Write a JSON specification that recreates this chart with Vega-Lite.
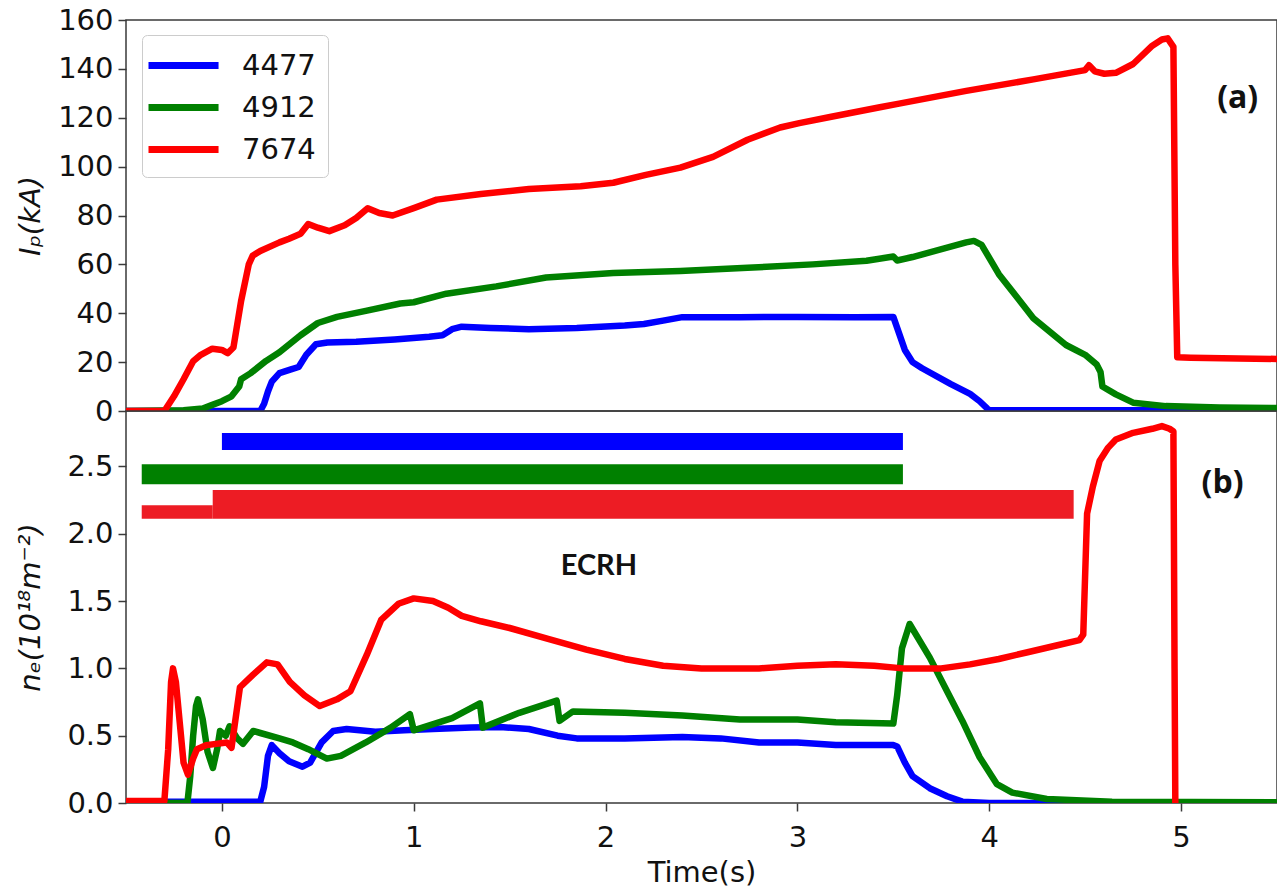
{
  "$schema": "https://vega.github.io/schema/vega-lite/v6.json",
  "padding": {"left": 15, "top": 5, "right": 0, "bottom": 5},
  "spacing": 0,
  "bounds": "flush",
  "config": {
    "view": {"stroke": "#3a3a3a", "strokeWidth": 1.5},
    "axis": {"labelFont": "DejaVu Sans", "labelFontSize": 29, "labelColor": "#111111", "titleFont": "DejaVu Sans", "titleFontSize": 29, "titleFontWeight": "normal", "titleColor": "#111111", "grid": false, "domain": false, "tickColor": "#3a3a3a", "tickSize": 8, "tickWidth": 1.5, "labelPadding": 5}
  },
  "resolve": {"scale": {"color": "independent"}, "legend": {"color": "independent"}},
  "datasets": {
    "ip": [
      {"shot":"4477","t":-0.5,"v":0},{"shot":"4477","t":0.2,"v":0},{"shot":"4477","t":0.22,"v":3},{"shot":"4477","t":0.24,"v":8},{"shot":"4477","t":0.26,"v":12},{"shot":"4477","t":0.3,"v":15.5},{"shot":"4477","t":0.36,"v":17},{"shot":"4477","t":0.4,"v":18},{"shot":"4477","t":0.44,"v":23},{"shot":"4477","t":0.49,"v":27.3},{"shot":"4477","t":0.55,"v":28},{"shot":"4477","t":0.7,"v":28.3},{"shot":"4477","t":0.9,"v":29.3},{"shot":"4477","t":1.08,"v":30.4},{"shot":"4477","t":1.15,"v":31},{"shot":"4477","t":1.2,"v":33.5},{"shot":"4477","t":1.25,"v":34.5},{"shot":"4477","t":1.4,"v":34},{"shot":"4477","t":1.6,"v":33.5},{"shot":"4477","t":1.85,"v":34},{"shot":"4477","t":2.1,"v":35},{"shot":"4477","t":2.2,"v":35.6},{"shot":"4477","t":2.3,"v":37},{"shot":"4477","t":2.4,"v":38.4},{"shot":"4477","t":2.7,"v":38.4},{"shot":"4477","t":3.0,"v":38.5},{"shot":"4477","t":3.3,"v":38.4},{"shot":"4477","t":3.5,"v":38.5},{"shot":"4477","t":3.56,"v":25},{"shot":"4477","t":3.6,"v":20},{"shot":"4477","t":3.65,"v":17.5},{"shot":"4477","t":3.8,"v":11},{"shot":"4477","t":3.9,"v":7},{"shot":"4477","t":3.95,"v":4},{"shot":"4477","t":3.99,"v":1},{"shot":"4477","t":4.0,"v":0.3},{"shot":"4477","t":5.5,"v":0.3},
      {"shot":"4912","t":-0.5,"v":0},{"shot":"4912","t":-0.2,"v":0.3},{"shot":"4912","t":-0.1,"v":1},{"shot":"4912","t":-0.05,"v":2.5},{"shot":"4912","t":0,"v":4},{"shot":"4912","t":0.05,"v":6},{"shot":"4912","t":0.09,"v":10},{"shot":"4912","t":0.1,"v":13},{"shot":"4912","t":0.15,"v":15.5},{"shot":"4912","t":0.23,"v":20.5},{"shot":"4912","t":0.3,"v":24},{"shot":"4912","t":0.41,"v":31},{"shot":"4912","t":0.5,"v":36},{"shot":"4912","t":0.6,"v":38.5},{"shot":"4912","t":0.75,"v":41},{"shot":"4912","t":0.93,"v":44},{"shot":"4912","t":1.0,"v":44.5},{"shot":"4912","t":1.17,"v":48},{"shot":"4912","t":1.43,"v":51},{"shot":"4912","t":1.69,"v":54.6},{"shot":"4912","t":2.04,"v":56.5},{"shot":"4912","t":2.39,"v":57.3},{"shot":"4912","t":2.74,"v":58.6},{"shot":"4912","t":3.08,"v":60},{"shot":"4912","t":3.36,"v":61.5},{"shot":"4912","t":3.5,"v":63.2},{"shot":"4912","t":3.52,"v":61.6},{"shot":"4912","t":3.6,"v":63},{"shot":"4912","t":3.88,"v":69},{"shot":"4912","t":3.92,"v":69.6},{"shot":"4912","t":3.96,"v":68},{"shot":"4912","t":4.05,"v":56},{"shot":"4912","t":4.23,"v":38},{"shot":"4912","t":4.4,"v":27},{"shot":"4912","t":4.5,"v":23},{"shot":"4912","t":4.56,"v":19},{"shot":"4912","t":4.58,"v":16},{"shot":"4912","t":4.59,"v":10},{"shot":"4912","t":4.66,"v":6.8},{"shot":"4912","t":4.75,"v":3.4},{"shot":"4912","t":4.92,"v":2},{"shot":"4912","t":5.2,"v":1.4},{"shot":"4912","t":5.5,"v":1.2},
      {"shot":"7674","t":-0.5,"v":0},{"shot":"7674","t":-0.3,"v":0},{"shot":"7674","t":-0.25,"v":6},{"shot":"7674","t":-0.2,"v":13},{"shot":"7674","t":-0.15,"v":20.4},{"shot":"7674","t":-0.11,"v":23},{"shot":"7674","t":-0.05,"v":25.5},{"shot":"7674","t":0,"v":25},{"shot":"7674","t":0.03,"v":23.7},{"shot":"7674","t":0.06,"v":26},{"shot":"7674","t":0.1,"v":45},{"shot":"7674","t":0.14,"v":60},{"shot":"7674","t":0.16,"v":63.5},{"shot":"7674","t":0.2,"v":65.5},{"shot":"7674","t":0.3,"v":69},{"shot":"7674","t":0.35,"v":70.5},{"shot":"7674","t":0.41,"v":72.5},{"shot":"7674","t":0.45,"v":76.5},{"shot":"7674","t":0.5,"v":75},{"shot":"7674","t":0.56,"v":73.6},{"shot":"7674","t":0.64,"v":76},{"shot":"7674","t":0.7,"v":79},{"shot":"7674","t":0.76,"v":83},{"shot":"7674","t":0.82,"v":81},{"shot":"7674","t":0.89,"v":80},{"shot":"7674","t":1.0,"v":83},{"shot":"7674","t":1.12,"v":86.5},{"shot":"7674","t":1.35,"v":88.8},{"shot":"7674","t":1.6,"v":90.8},{"shot":"7674","t":1.87,"v":92},{"shot":"7674","t":2.04,"v":93.4},{"shot":"7674","t":2.21,"v":96.6},{"shot":"7674","t":2.39,"v":99.6},{"shot":"7674","t":2.56,"v":104},{"shot":"7674","t":2.74,"v":111},{"shot":"7674","t":2.91,"v":116},{"shot":"7674","t":3.01,"v":117.8},{"shot":"7674","t":3.17,"v":120.3},{"shot":"7674","t":3.43,"v":124.3},{"shot":"7674","t":3.53,"v":125.8},{"shot":"7674","t":3.88,"v":131},{"shot":"7674","t":4.23,"v":135.7},{"shot":"7674","t":4.5,"v":139.5},{"shot":"7674","t":4.52,"v":141.5},{"shot":"7674","t":4.55,"v":139},{"shot":"7674","t":4.6,"v":138},{"shot":"7674","t":4.66,"v":138.4},{"shot":"7674","t":4.75,"v":142},{"shot":"7674","t":4.85,"v":149.5},{"shot":"7674","t":4.9,"v":152},{"shot":"7674","t":4.93,"v":152.5},{"shot":"7674","t":4.96,"v":149},{"shot":"7674","t":4.97,"v":60},{"shot":"7674","t":4.98,"v":22},{"shot":"7674","t":5.05,"v":21.8},{"shot":"7674","t":5.3,"v":21.5},{"shot":"7674","t":5.5,"v":21.3}
    ],
    "ne": [
      {"shot":"4477","t":-0.5,"v":0.01},{"shot":"4477","t":0.2,"v":0.01},{"shot":"4477","t":0.22,"v":0.12},{"shot":"4477","t":0.24,"v":0.35},{"shot":"4477","t":0.26,"v":0.43},{"shot":"4477","t":0.3,"v":0.37},{"shot":"4477","t":0.35,"v":0.31},{"shot":"4477","t":0.42,"v":0.27},{"shot":"4477","t":0.46,"v":0.3},{"shot":"4477","t":0.52,"v":0.45},{"shot":"4477","t":0.58,"v":0.535},{"shot":"4477","t":0.65,"v":0.55},{"shot":"4477","t":0.8,"v":0.53},{"shot":"4477","t":0.95,"v":0.54},{"shot":"4477","t":1.1,"v":0.55},{"shot":"4477","t":1.3,"v":0.56},{"shot":"4477","t":1.45,"v":0.565},{"shot":"4477","t":1.6,"v":0.55},{"shot":"4477","t":1.75,"v":0.5},{"shot":"4477","t":1.85,"v":0.48},{"shot":"4477","t":2.1,"v":0.48},{"shot":"4477","t":2.4,"v":0.49},{"shot":"4477","t":2.6,"v":0.48},{"shot":"4477","t":2.8,"v":0.45},{"shot":"4477","t":3.0,"v":0.45},{"shot":"4477","t":3.2,"v":0.43},{"shot":"4477","t":3.5,"v":0.43},{"shot":"4477","t":3.52,"v":0.42},{"shot":"4477","t":3.56,"v":0.3},{"shot":"4477","t":3.6,"v":0.2},{"shot":"4477","t":3.69,"v":0.11},{"shot":"4477","t":3.78,"v":0.05},{"shot":"4477","t":3.86,"v":0.01},{"shot":"4477","t":4.0,"v":0},{"shot":"4477","t":5.5,"v":0},
      {"shot":"4912","t":-0.5,"v":0},{"shot":"4912","t":-0.18,"v":0},{"shot":"4912","t":-0.165,"v":0.2},{"shot":"4912","t":-0.15,"v":0.5},{"shot":"4912","t":-0.135,"v":0.72},{"shot":"4912","t":-0.125,"v":0.77},{"shot":"4912","t":-0.1,"v":0.62},{"shot":"4912","t":-0.075,"v":0.38},{"shot":"4912","t":-0.047,"v":0.26},{"shot":"4912","t":-0.025,"v":0.4},{"shot":"4912","t":-0.01,"v":0.535},{"shot":"4912","t":0.02,"v":0.5},{"shot":"4912","t":0.04,"v":0.57},{"shot":"4912","t":0.08,"v":0.48},{"shot":"4912","t":0.11,"v":0.44},{"shot":"4912","t":0.163,"v":0.535},{"shot":"4912","t":0.2,"v":0.52},{"shot":"4912","t":0.3,"v":0.48},{"shot":"4912","t":0.37,"v":0.45},{"shot":"4912","t":0.45,"v":0.4},{"shot":"4912","t":0.547,"v":0.33},{"shot":"4912","t":0.62,"v":0.35},{"shot":"4912","t":0.75,"v":0.45},{"shot":"4912","t":0.88,"v":0.56},{"shot":"4912","t":0.98,"v":0.66},{"shot":"4912","t":1.0,"v":0.54},{"shot":"4912","t":1.2,"v":0.63},{"shot":"4912","t":1.345,"v":0.74},{"shot":"4912","t":1.36,"v":0.56},{"shot":"4912","t":1.55,"v":0.67},{"shot":"4912","t":1.745,"v":0.76},{"shot":"4912","t":1.76,"v":0.61},{"shot":"4912","t":1.83,"v":0.68},{"shot":"4912","t":2.1,"v":0.67},{"shot":"4912","t":2.4,"v":0.65},{"shot":"4912","t":2.7,"v":0.62},{"shot":"4912","t":3.0,"v":0.62},{"shot":"4912","t":3.2,"v":0.6},{"shot":"4912","t":3.5,"v":0.59},{"shot":"4912","t":3.52,"v":0.8},{"shot":"4912","t":3.545,"v":1.15},{"shot":"4912","t":3.585,"v":1.33},{"shot":"4912","t":3.69,"v":1.08},{"shot":"4912","t":3.78,"v":0.83},{"shot":"4912","t":3.86,"v":0.61},{"shot":"4912","t":3.95,"v":0.34},{"shot":"4912","t":4.04,"v":0.14},{"shot":"4912","t":4.12,"v":0.077},{"shot":"4912","t":4.3,"v":0.03},{"shot":"4912","t":4.64,"v":0.01},{"shot":"4912","t":5.5,"v":0.005},
      {"shot":"7674","t":-0.5,"v":0.015},{"shot":"7674","t":-0.3,"v":0.015},{"shot":"7674","t":-0.28,"v":0.4},{"shot":"7674","t":-0.265,"v":0.9},{"shot":"7674","t":-0.255,"v":1.0},{"shot":"7674","t":-0.24,"v":0.9},{"shot":"7674","t":-0.22,"v":0.6},{"shot":"7674","t":-0.2,"v":0.3},{"shot":"7674","t":-0.177,"v":0.21},{"shot":"7674","t":-0.15,"v":0.33},{"shot":"7674","t":-0.13,"v":0.4},{"shot":"7674","t":-0.08,"v":0.43},{"shot":"7674","t":0.025,"v":0.45},{"shot":"7674","t":0.05,"v":0.41},{"shot":"7674","t":0.094,"v":0.86},{"shot":"7674","t":0.16,"v":0.95},{"shot":"7674","t":0.234,"v":1.045},{"shot":"7674","t":0.29,"v":1.03},{"shot":"7674","t":0.354,"v":0.9},{"shot":"7674","t":0.43,"v":0.8},{"shot":"7674","t":0.51,"v":0.72},{"shot":"7674","t":0.6,"v":0.77},{"shot":"7674","t":0.67,"v":0.83},{"shot":"7674","t":0.755,"v":1.1},{"shot":"7674","t":0.83,"v":1.36},{"shot":"7674","t":0.92,"v":1.48},{"shot":"7674","t":1.0,"v":1.52},{"shot":"7674","t":1.1,"v":1.5},{"shot":"7674","t":1.18,"v":1.45},{"shot":"7674","t":1.25,"v":1.39},{"shot":"7674","t":1.35,"v":1.35},{"shot":"7674","t":1.5,"v":1.3},{"shot":"7674","t":1.7,"v":1.22},{"shot":"7674","t":1.9,"v":1.14},{"shot":"7674","t":2.1,"v":1.07},{"shot":"7674","t":2.3,"v":1.02},{"shot":"7674","t":2.5,"v":1.0},{"shot":"7674","t":2.8,"v":1.0},{"shot":"7674","t":3.0,"v":1.02},{"shot":"7674","t":3.2,"v":1.03},{"shot":"7674","t":3.4,"v":1.02},{"shot":"7674","t":3.55,"v":1.0},{"shot":"7674","t":3.75,"v":1.0},{"shot":"7674","t":3.9,"v":1.03},{"shot":"7674","t":4.05,"v":1.07},{"shot":"7674","t":4.2,"v":1.12},{"shot":"7674","t":4.35,"v":1.17},{"shot":"7674","t":4.47,"v":1.21},{"shot":"7674","t":4.49,"v":1.25},{"shot":"7674","t":4.51,"v":2.15},{"shot":"7674","t":4.54,"v":2.35},{"shot":"7674","t":4.575,"v":2.54},{"shot":"7674","t":4.62,"v":2.64},{"shot":"7674","t":4.66,"v":2.7},{"shot":"7674","t":4.75,"v":2.75},{"shot":"7674","t":4.85,"v":2.78},{"shot":"7674","t":4.9,"v":2.8},{"shot":"7674","t":4.94,"v":2.78},{"shot":"7674","t":4.96,"v":2.76},{"shot":"7674","t":4.966,"v":1.0},{"shot":"7674","t":4.97,"v":0}
    ],
    "ecrh": [
      {"shot":"4477","t0":0,"t1":3.55,"y0":2.623,"y1":2.749},
      {"shot":"4912","t0":-0.418,"t1":3.55,"y0":2.368,"y1":2.516},
      {"shot":"7674","t0":-0.418,"t1":-0.048,"y0":2.112,"y1":2.212},
      {"shot":"7674","t0":-0.048,"t1":4.44,"y0":2.112,"y1":2.325}
    ],
    "labA": [{"t":5.295,"v":128,"label":"(a)"}],
    "labB": [{"t":5.216,"v":2.377,"label":"(b)"}],
    "labC": [{"t":1.965,"v":1.76,"label":"ECRH"}]
  },
  "vconcat": [
    {
      "width": 1151,
      "height": 391,
      "layer": [
        {
          "data": {"name": "ip"},
          "mark": {"type": "line", "strokeWidth": 6.5, "clip": true, "strokeJoin": "round", "strokeCap": "round"},
          "encoding": {
            "x": {"field": "t", "type": "quantitative", "scale": {"domain": [-0.5, 5.5], "nice": false, "zero": false}, "axis": null},
            "y": {"field": "v", "type": "quantitative", "scale": {"domain": [0, 160], "nice": false}, "axis": {"values": [0, 20, 40, 60, 80, 100, 120, 140, 160], "title": "Iₚ(kA)", "titleFontStyle": "italic", "titleX": -96, "titleBaseline": "middle"}},
            "color": {"field": "shot", "type": "nominal", "scale": {"domain": ["4477", "4912", "7674"], "range": ["#0000ff", "#008000", "#ff0000"]},
              "legend": {"orient": "none", "legendX": 16, "legendY": 15, "title": null, "symbolType": "M-1.6,0H3.07", "symbolSize": 900, "symbolStrokeWidth": 7, "symbolFillColor": "transparent", "labelFontSize": 29, "labelFont": "DejaVu Sans", "labelColor": "#111111", "labelOffset": 51, "rowPadding": 8, "padding": 12, "strokeColor": "#cccccc", "fillColor": "#ffffff", "cornerRadius": 5}}
          }
        },
        {
          "data": {"name": "labA"},
          "mark": {"type": "text", "font": "Open Sans", "fontWeight": "bold", "fontSize": 32, "align": "center", "baseline": "middle", "color": "#111111"},
          "encoding": {
            "x": {"field": "t", "type": "quantitative"},
            "y": {"field": "v", "type": "quantitative"},
            "text": {"field": "label"}
          }
        }
      ]
    },
    {
      "width": 1151,
      "height": 392,
      "layer": [
        {
          "data": {"name": "ecrh"},
          "mark": {"type": "rect"},
          "encoding": {
            "x": {"field": "t0", "type": "quantitative", "scale": {"domain": [-0.5, 5.5], "nice": false, "zero": false}, "axis": {"values": [0, 1, 2, 3, 4, 5], "format": "d", "title": "Time(s)", "labelPadding": 12, "titlePadding": 6}},
            "x2": {"field": "t1"},
            "y": {"field": "y0", "type": "quantitative", "scale": {"domain": [0, 2.912], "nice": false}, "axis": {"values": [0, 0.5, 1, 1.5, 2, 2.5], "format": ".1f", "title": "nₑ(10¹⁸m⁻²)", "titleFontStyle": "italic", "titleX": -96, "titleBaseline": "middle"}},
            "y2": {"field": "y1"},
            "color": {"field": "shot", "type": "nominal", "scale": {"domain": ["4477", "4912", "7674"], "range": ["#0000ff", "#008000", "#ed1c24"]}, "legend": null}
          }
        },
        {
          "data": {"name": "ne"},
          "mark": {"type": "line", "strokeWidth": 6.5, "clip": true, "strokeJoin": "round", "strokeCap": "round"},
          "encoding": {
            "x": {"field": "t", "type": "quantitative"},
            "y": {"field": "v", "type": "quantitative"},
            "color": {"field": "shot", "type": "nominal", "scale": {"domain": ["4477", "4912", "7674"], "range": ["#0000ff", "#008000", "#ff0000"]}, "legend": null}
          }
        },
        {
          "data": {"name": "labB"},
          "mark": {"type": "text", "font": "Open Sans", "fontWeight": "bold", "fontSize": 32, "align": "center", "baseline": "middle", "color": "#111111"},
          "encoding": {
            "x": {"field": "t", "type": "quantitative"},
            "y": {"field": "v", "type": "quantitative"},
            "text": {"field": "label"}
          }
        },
        {
          "data": {"name": "labC"},
          "mark": {"type": "text", "font": "Lato", "fontWeight": "bold", "fontSize": 29, "align": "center", "baseline": "middle", "color": "#111111"},
          "encoding": {
            "x": {"field": "t", "type": "quantitative"},
            "y": {"field": "v", "type": "quantitative"},
            "text": {"field": "label"}
          }
        }
      ],
      "resolve": {"scale": {"color": "independent"}}
    }
  ]
}
